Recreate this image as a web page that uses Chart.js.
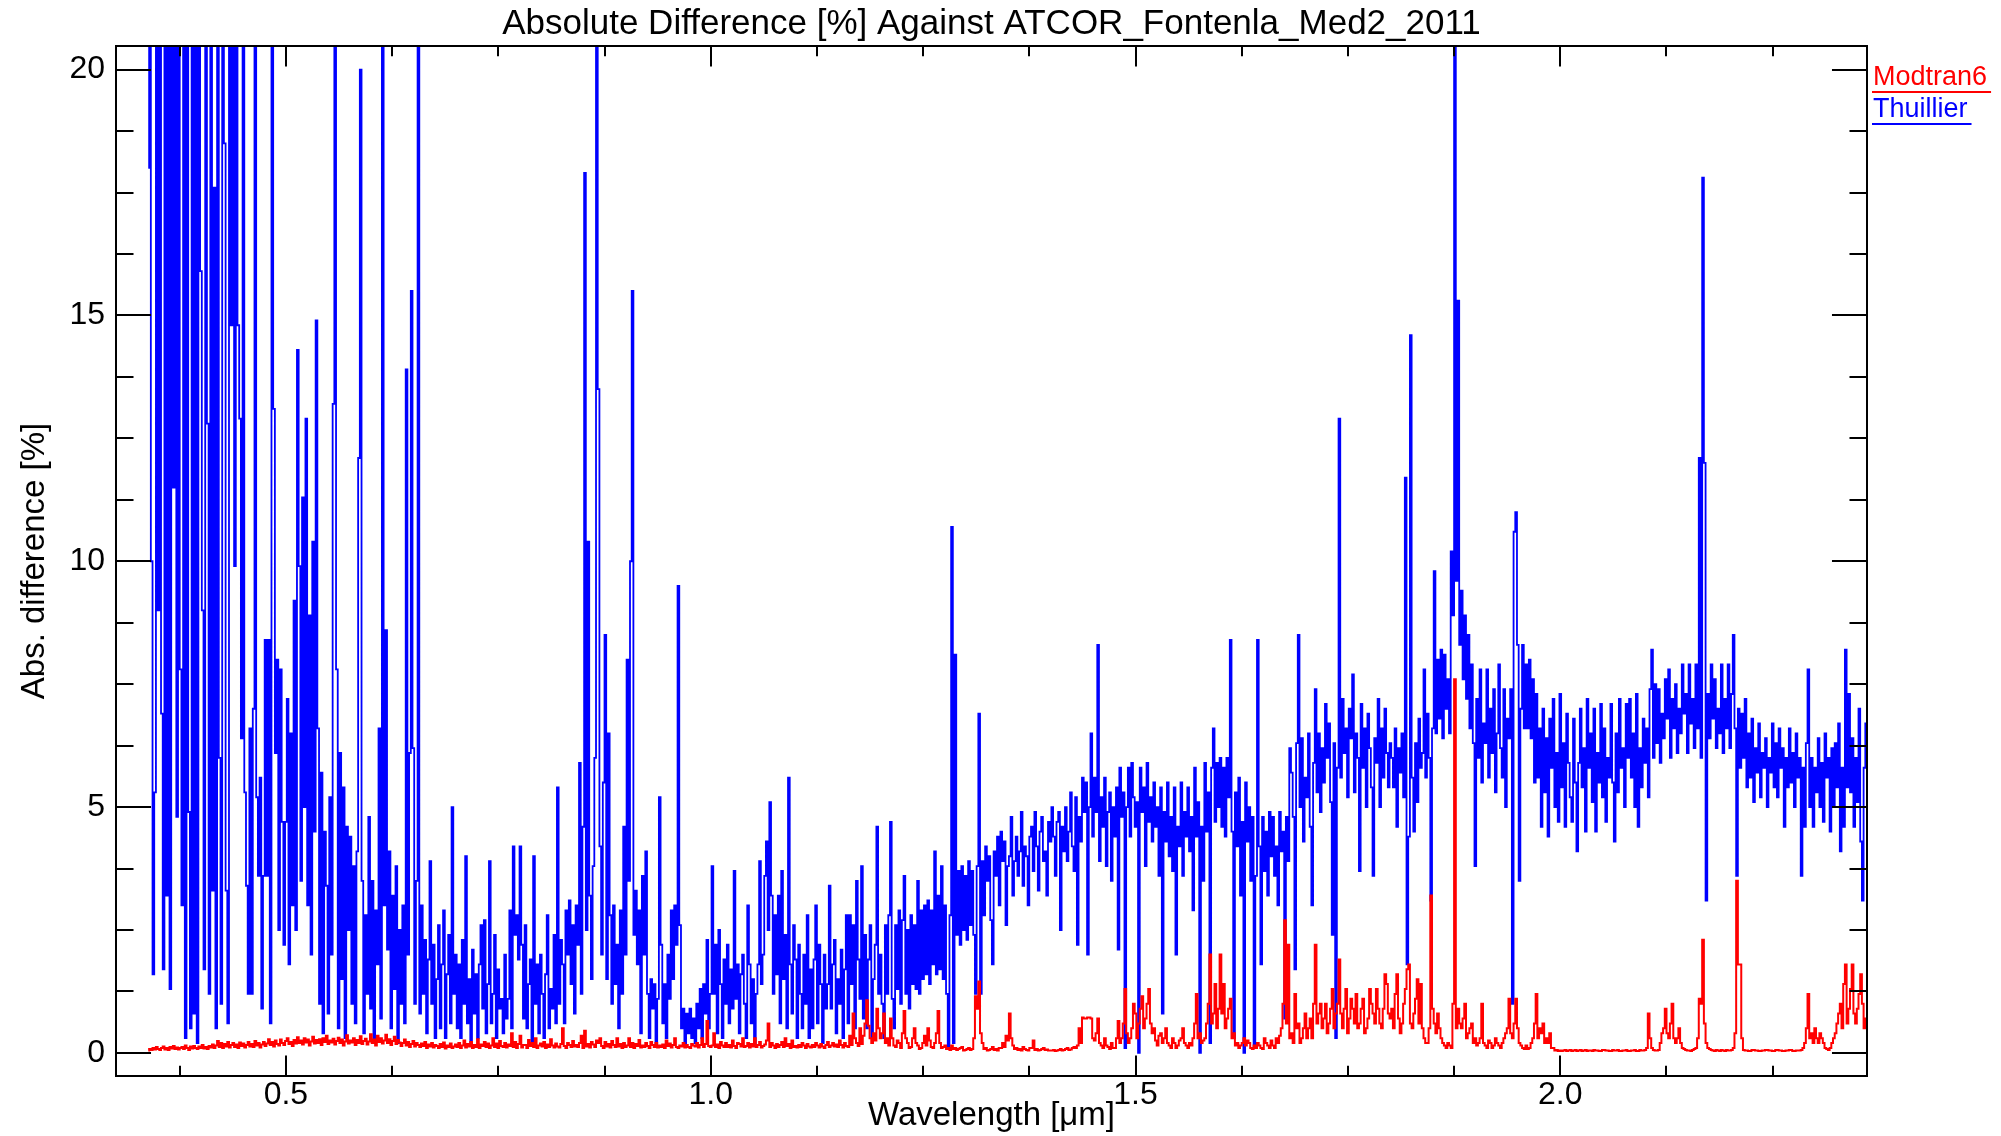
<!DOCTYPE html>
<html>
<head>
<meta charset="utf-8">
<title>Absolute Difference [%] Against ATCOR_Fontenla_Med2_2011</title>
<script src="https://cdn.jsdelivr.net/npm/chart.js@4.4.1/dist/chart.umd.min.js"></script>
<style>
  html, body { margin: 0; padding: 0; background: #fff; }
  #wrap { width: 2001px; height: 1136px; position: relative; }
</style>
</head>
<body>
<div id="wrap"><canvas id="chart"></canvas></div>
<script>
// ---- data ----
// wavelength grid [um]
const wlUV = [
  0.338,0.340,0.342,0.344,0.346,0.348,0.350,0.352,0.354,0.356,
  0.358,0.360,0.362,0.364,0.366,0.368,0.370,0.372,0.374,0.376,
  0.378,0.380,0.382,0.384,0.386,0.388,0.390,0.392,0.394,0.396,
  0.398,0.400,0.402,0.404,0.406,0.408,0.410,0.412,0.414,0.416,
  0.418,0.420,0.422,0.424,0.426,0.428,0.430,0.432,0.434,0.436,
  0.438,0.440,0.442,0.444,0.446,0.448,0.450,0.452,0.454,0.456,
  0.458,0.460,0.462,0.464,0.466,0.468,0.470,0.472,0.474,0.476,
  0.478,0.480,0.482,0.484,0.486,0.488,0.490,0.492,0.494,0.496,
  0.498,0.500,0.502,0.504,0.506,0.508,0.510,0.512,0.514,0.516,
  0.518,0.520,0.522,0.524,0.526,0.528,0.530,0.532,0.534,0.536,
  0.538,0.540,0.542,0.544,0.546,0.548,0.550,0.552,0.554,0.556,
  0.558,0.560,0.562,0.564,0.566,0.568,0.570,0.572,0.574,0.576,
  0.578,0.580,0.582,0.584,0.586,0.588,0.590,0.592,0.594,0.596,
  0.598,0.600,0.602,0.604,0.606,0.608,0.610,0.612,0.614,0.616,
  0.618,0.620,0.622,0.624,0.626,0.628,0.630,0.632,0.634,0.636,
  0.638,0.640,0.642,0.644,0.646,0.648,0.650,0.652,0.654,0.656,
  0.658,0.660,0.662,0.664,0.666,0.668,0.670,0.672,0.674,0.676,
  0.678,0.680,0.682,0.684,0.686,0.688,0.690,0.692,0.694,0.696,
  0.698,0.700
];
const wlVNIR = [
  0.702,0.704,0.706,0.708,0.710,0.712,0.714,0.716,0.718,0.720,
  0.722,0.724,0.726,0.728,0.730,0.732,0.734,0.736,0.738,0.740,
  0.742,0.744,0.746,0.748,0.750,0.752,0.754,0.756,0.758,0.760,
  0.762,0.764,0.766,0.768,0.770,0.772,0.774,0.776,0.778,0.780,
  0.782,0.784,0.786,0.788,0.790,0.792,0.794,0.796,0.798,0.800,
  0.802,0.804,0.806,0.808,0.810,0.812,0.814,0.816,0.818,0.820,
  0.822,0.824,0.826,0.828,0.830,0.832,0.834,0.836,0.838,0.840,
  0.842,0.844,0.846,0.848,0.850,0.852,0.854,0.856,0.858,0.860,
  0.862,0.864,0.866,0.868,0.870,0.872,0.874,0.876,0.878,0.880,
  0.882,0.884,0.886,0.888,0.890,0.892,0.894,0.896,0.898,0.900,
  0.902,0.904,0.906,0.908,0.910,0.912,0.914,0.916,0.918,0.920,
  0.922,0.924,0.926,0.928,0.930,0.932,0.934,0.936,0.938,0.940,
  0.942,0.944,0.946,0.948,0.950,0.952,0.954,0.956,0.958,0.960,
  0.962,0.964,0.966,0.968,0.970,0.972,0.974,0.976,0.978,0.980,
  0.982,0.984,0.986,0.988,0.990,0.992,0.994,0.996,0.998,1.000,
  1.002,1.004,1.006,1.008,1.010,1.012,1.014,1.016,1.018,1.020,
  1.022,1.024,1.026,1.028,1.030,1.032,1.034,1.036,1.038,1.040,
  1.042,1.044,1.046,1.048,1.050,1.052,1.054,1.056,1.058,1.060,
  1.062,1.064,1.066,1.068,1.070,1.072,1.074,1.076,1.078,1.080,
  1.082,1.084,1.086,1.088,1.090,1.092,1.094,1.096,1.098,1.100,
  1.102,1.104,1.106,1.108,1.110,1.112,1.114,1.116,1.118,1.120,
  1.122,1.124,1.126,1.128,1.130,1.132,1.134,1.136,1.138,1.140,
  1.142,1.144,1.146,1.148,1.150,1.152,1.154,1.156,1.158,1.160,
  1.162,1.164,1.166,1.168,1.170,1.172,1.174,1.176,1.178,1.180,
  1.182,1.184,1.186,1.188,1.190,1.192,1.194,1.196,1.198,1.200
];
const wlSWIR1 = [
  1.202,1.204,1.206,1.208,1.210,1.212,1.214,1.216,1.218,1.220,
  1.222,1.224,1.226,1.228,1.230,1.232,1.234,1.236,1.238,1.240,
  1.242,1.244,1.246,1.248,1.250,1.252,1.254,1.256,1.258,1.260,
  1.262,1.264,1.266,1.268,1.270,1.272,1.274,1.276,1.278,1.280,
  1.282,1.284,1.286,1.288,1.290,1.292,1.294,1.296,1.298,1.300,
  1.302,1.304,1.306,1.308,1.310,1.312,1.314,1.316,1.318,1.320,
  1.322,1.324,1.326,1.328,1.330,1.332,1.334,1.336,1.338,1.340,
  1.342,1.344,1.346,1.348,1.350,1.352,1.354,1.356,1.358,1.360,
  1.362,1.364,1.366,1.368,1.370,1.372,1.374,1.376,1.378,1.380,
  1.382,1.384,1.386,1.388,1.390,1.392,1.394,1.396,1.398,1.400,
  1.402,1.404,1.406,1.408,1.410,1.412,1.414,1.416,1.418,1.420,
  1.422,1.424,1.426,1.428,1.430,1.432,1.434,1.436,1.438,1.440,
  1.442,1.444,1.446,1.448,1.450,1.452,1.454,1.456,1.458,1.460,
  1.462,1.464,1.466,1.468,1.470,1.472,1.474,1.476,1.478,1.480,
  1.482,1.484,1.486,1.488,1.490,1.492,1.494,1.496,1.498,1.500,
  1.502,1.504,1.506,1.508,1.510,1.512,1.514,1.516,1.518,1.520,
  1.522,1.524,1.526,1.528,1.530,1.532,1.534,1.536,1.538,1.540,
  1.542,1.544,1.546,1.548,1.550,1.552,1.554,1.556,1.558,1.560,
  1.562,1.564,1.566,1.568,1.570,1.572,1.574,1.576,1.578,1.580,
  1.582,1.584,1.586,1.588,1.590,1.592,1.594,1.596,1.598,1.600,
  1.602,1.604,1.606,1.608,1.610,1.612,1.614,1.616,1.618,1.620,
  1.622,1.624,1.626,1.628,1.630,1.632,1.634,1.636,1.638,1.640,
  1.642,1.644,1.646,1.648,1.650,1.652,1.654,1.656,1.658,1.660,
  1.662,1.664,1.666,1.668,1.670,1.672,1.674,1.676,1.678,1.680,
  1.682,1.684,1.686,1.688,1.690,1.692,1.694,1.696,1.698,1.700,
  1.702,1.704,1.706,1.708,1.710,1.712,1.714,1.716,1.718,1.720,
  1.722,1.724,1.726,1.728,1.730,1.732,1.734,1.736,1.738,1.740,
  1.742,1.744,1.746,1.748,1.750,1.752,1.754,1.756,1.758,1.760,
  1.762,1.764,1.766,1.768,1.770,1.772,1.774,1.776,1.778,1.780,
  1.782,1.784,1.786,1.788,1.790,1.792,1.794,1.796,1.798,1.800
];
const wlSWIR2 = [
  1.802,1.804,1.806,1.808,1.810,1.812,1.814,1.816,1.818,1.820,
  1.822,1.824,1.826,1.828,1.830,1.832,1.834,1.836,1.838,1.840,
  1.842,1.844,1.846,1.848,1.850,1.852,1.854,1.856,1.858,1.860,
  1.862,1.864,1.866,1.868,1.870,1.872,1.874,1.876,1.878,1.880,
  1.882,1.884,1.886,1.888,1.890,1.892,1.894,1.896,1.898,1.900,
  1.902,1.904,1.906,1.908,1.910,1.912,1.914,1.916,1.918,1.920,
  1.922,1.924,1.926,1.928,1.930,1.932,1.934,1.936,1.938,1.940,
  1.942,1.944,1.946,1.948,1.950,1.952,1.954,1.956,1.958,1.960,
  1.962,1.964,1.966,1.968,1.970,1.972,1.974,1.976,1.978,1.980,
  1.982,1.984,1.986,1.988,1.990,1.992,1.994,1.996,1.998,2.000,
  2.002,2.004,2.006,2.008,2.010,2.012,2.014,2.016,2.018,2.020,
  2.022,2.024,2.026,2.028,2.030,2.032,2.034,2.036,2.038,2.040,
  2.042,2.044,2.046,2.048,2.050,2.052,2.054,2.056,2.058,2.060,
  2.062,2.064,2.066,2.068,2.070,2.072,2.074,2.076,2.078,2.080,
  2.082,2.084,2.086,2.088,2.090,2.092,2.094,2.096,2.098,2.100,
  2.102,2.104,2.106,2.108,2.110,2.112,2.114,2.116,2.118,2.120,
  2.122,2.124,2.126,2.128,2.130,2.132,2.134,2.136,2.138,2.140,
  2.142,2.144,2.146,2.148,2.150,2.152,2.154,2.156,2.158,2.160,
  2.162,2.164,2.166,2.168,2.170,2.172,2.174,2.176,2.178,2.180,
  2.182,2.184,2.186,2.188,2.190,2.192,2.194,2.196,2.198,2.200,
  2.202,2.204,2.206,2.208,2.210,2.212,2.214,2.216,2.218,2.220,
  2.222,2.224,2.226,2.228,2.230,2.232,2.234,2.236,2.238,2.240,
  2.242,2.244,2.246,2.248,2.250,2.252,2.254,2.256,2.258,2.260,
  2.262,2.264,2.266,2.268,2.270,2.272,2.274,2.276,2.278,2.280,
  2.282,2.284,2.286,2.288,2.290,2.292,2.294,2.296,2.298,2.300,
  2.302,2.304,2.306,2.308,2.310,2.312,2.314,2.316,2.318,2.320,
  2.322,2.324,2.326,2.328,2.330,2.332,2.334,2.336,2.338,2.340,
  2.342,2.344,2.346,2.348,2.350,2.352,2.354,2.356,2.358,2.360
];

// Thuillier abs. difference [%] (values above 20 run off the top of the plot)
const thuillierUV = [
  18, 25, 10, 1.6, 5.3, 25, 9, 25, 6.9, 1.7,
  25, 3.2, 25, 1.3, 25, 11.5, 25, 4.8, 25, 7.8,
  3.0, 25, 0.3, 25, 4.9, 0.5, 25, 0.8, 25, 0.2,
  25, 15.9, 9, 1.7, 25, 12.8, 1.2, 25, 3.3, 17.6,
  0.5, 25, 6.0, 1.0, 25, 18.5, 3.3, 0.6, 25, 14.8,
  25, 9.9, 25, 14.8, 12.9, 6.4, 25, 5.3, 3.4, 1.2,
  6.6, 1.2, 7.0, 25, 5.2, 3.6, 5.6, 0.9, 3.6, 8.4,
  3.6, 8.4, 0.6, 25, 13.1, 6.1, 8.0, 2.5, 7.8, 4.7,
  2.2, 4.7, 7.2, 1.8, 6.5, 3.0, 9.2, 2.5, 14.3, 9.9,
  3.5, 11.3, 5.0, 12.9, 3.0, 8.9, 2.0, 10.4, 4.5, 14.9,
  6.6, 1.0, 5.7, 0.4, 4.5, 3.4, 0.8, 5.2, 2.0, 13.2,
  25, 7.8, 0.5, 6.1, 1.5, 5.4, 0.3, 4.6, 2.5, 4.4,
  1.0, 3.8, 0.6, 4.1, 12.1, 20.0, 3.5, 0.4, 2.8, 1.2,
  4.8, 0.9, 3.5, 0.3, 2.9, 1.8, 6.6, 0.7, 25, 3.0,
  8.6, 2.1, 4.1, 0.5, 3.2, 1.3, 3.8, 0.2, 2.5, 1.0,
  3.0, 0.6, 13.9, 2.0, 6.1, 15.5, 6.2, 1.0, 3.5, 25,
  0.8, 3.0, 1.2, 2.3, 0.4, 1.9, 3.9, 1.0, 2.2, 0.3,
  1.5, 2.6, 0.5, 1.8, 2.9, 0.3, 1.6, 2.4, 0.6, 5.0,
  1.2, 2.0
];
const thuillierVNIR = [
  0.5, 1.8, 0.3, 2.3, 1.0, 4.0, 0.6, 1.5, 0.2, 2.1,
  0.8, 1.6, 0.3, 1.8, 2.6, 0.9, 2.7, 0.4, 1.4, 3.9,
  0.6, 1.2, 2.4, 0.3, 1.7, 0.9, 1.1, 0.4, 2.0, 0.7,
  1.1, 2.9, 0.5, 4.2, 2.4, 2.8, 1.9, 4.2, 2.2, 0.7,
  2.6, 0.5, 1.4, 1.9, 0.2, 4.0, 1.0, 1.8, 0.4, 2.0,
  1.2, 0.3, 1.6, 2.8, 0.5, 1.3, 0.9, 2.4, 0.6, 5.4,
  1.0, 2.3, 1.8, 0.6, 2.9, 2.0, 3.1, 1.4, 2.6, 0.8,
  3.0, 2.2, 5.9, 1.2, 4.6, 17.9, 2.5, 10.4, 3.2, 1.5,
  3.8, 6.0, 25, 13.5, 4.2, 2.0, 5.5, 8.5, 1.5, 6.5,
  2.8, 1.0, 3.0, 1.4, 2.2, 0.5, 2.9, 1.2, 4.6, 2.0,
  8.0, 3.5, 10.0, 15.5, 2.4, 3.3, 1.8, 2.9, 0.4, 3.6,
  2.0, 4.1, 1.2, 0.3, 1.5, 0.9, 1.4, 0.2, 1.1, 5.2,
  2.2, 0.6, 1.4, 0.3, 2.0, 1.1, 2.9, 1.5, 3.0, 2.2,
  9.5, 2.6, 0.5, 0.9, 0.2, 0.8, 0.4, 0.9, 0.3, 0.7,
  0.2, 1.0, 0.5, 1.3, 0.3, 1.4, 0.8, 2.3, 0.5, 1.2,
  3.8, 1.2, 2.2, 0.4, 2.5, 1.4, 0.3, 1.9, 1.0, 2.2,
  0.6, 1.7, 0.9, 3.7, 1.1, 1.8, 0.4, 1.6, 2.0, 1.0,
  0.3, 3.0, 1.8, 0.6, 1.5, 0.2, 1.2, 1.8, 3.9, 1.4,
  2.0, 3.6, 4.3, 2.5, 5.1, 3.2, 1.2, 2.8, 1.6, 3.2,
  0.6, 3.7, 1.5, 2.4, 0.5, 5.6, 1.8, 0.8, 2.6, 1.9,
  0.3, 2.2, 1.2, 0.5, 2.0, 1.0, 2.8, 0.3, 1.7, 0.5,
  1.9, 3.0, 0.6, 2.2, 1.4, 0.2, 2.0, 0.9, 1.4, 3.4,
  0.9, 1.8, 2.3, 0.4, 1.5, 1.0, 2.1, 0.3, 1.7, 2.8,
  0.6, 2.8, 1.4, 2.6, 0.5, 3.5, 1.9, 1.1, 3.8, 0.7,
  2.4, 0.5, 1.9, 2.6, 0.3, 1.5, 2.2, 4.6, 1.2, 2.0
];
const thuillierSWIR1 = [
  1.0, 0.3, 2.6, 1.2, 2.8, 4.7, 1.1, 0.5, 2.6, 1.3,
  2.9, 1.0, 2.7, 3.6, 1.2, 2.5, 0.9, 2.8, 1.4, 2.6,
  1.3, 3.5, 1.2, 2.9, 1.5, 3.0, 1.6, 3.1, 1.4, 2.9,
  1.8, 4.1, 1.6, 3.2, 1.7, 3.8, 1.5, 3.0, 1.2, 0.1,
  2.8, 10.7, 0.2, 8.1, 2.4, 3.7, 2.2, 3.8, 2.5, 3.6,
  2.3, 3.9, 2.6, 3.7, 2.4, 1.2, 3.8, 6.9, 1.2, 3.9,
  2.8, 4.2, 3.5, 4.0, 2.7, 1.8, 4.1, 3.6, 4.4, 3.0,
  4.5, 3.9, 4.3, 2.6, 3.8, 4.0, 4.8, 3.2, 3.9, 4.4,
  3.6, 4.1, 4.9, 3.4, 4.2, 4.0, 3.0, 4.4, 4.6, 3.7,
  4.9, 4.2, 3.3, 4.5, 4.8, 3.9, 4.1, 3.2, 4.7, 4.3,
  5.0, 4.4, 3.6, 4.7, 4.9, 2.5, 4.6, 4.1, 5.0, 3.9,
  4.5, 5.3, 4.2, 3.7, 5.2, 2.2, 4.8, 4.3, 5.6, 4.9,
  5.5, 2.0, 5.0, 6.5, 4.4, 5.6, 4.9, 8.3, 3.9, 5.2,
  4.6, 5.6, 3.8, 4.9, 5.3, 3.5, 5.0, 4.4, 5.4, 2.1,
  5.8, 4.8, 5.3, 0.1, 5.0, 5.8, 4.4, 5.9, 5.2, 4.6,
  5.1, 0.0, 5.8, 4.9, 5.4, 3.8, 5.9, 4.7, 5.2, 4.3,
  5.5, 4.6, 5.0, 3.6, 5.4, 0.8, 4.9, 4.3, 5.5, 4.0,
  4.8, 3.7, 5.4, 2.0, 4.6, 4.2, 5.5, 3.6, 4.9, 4.4,
  5.4, 4.1, 4.8, 2.9, 5.8, 4.4, 5.1, 0.0, 4.6, 3.5,
  5.9, 4.5, 5.3, 0.2, 5.8, 6.6, 4.7, 5.9, 5.0, 6.0,
  4.6, 5.8, 4.4, 6.0, 5.2, 8.4, 4.5, 0.3, 5.3, 4.2,
  5.6, 3.2, 4.7, 0.0, 5.5, 4.3, 5.0, 3.5, 4.8, 0.1,
  3.6, 8.4, 4.2, 1.8, 4.8, 3.7, 4.5, 3.2, 4.9, 4.0,
  4.8, 3.6, 4.2, 3.0, 4.9, 4.1, 4.5, 0.7, 4.8, 3.9,
  6.2, 5.7, 4.8, 1.7, 6.3, 8.5, 5.0, 6.4, 4.3, 5.6,
  5.2, 6.5, 4.6, 3.0, 5.9, 7.4, 5.3, 6.5, 4.9, 6.2,
  5.5, 7.1, 6.0, 6.7, 5.1, 2.4, 6.3, 0.3, 5.8, 12.9,
  5.6, 7.2, 6.1, 6.6, 5.2, 7.0, 6.4, 7.7, 5.3, 6.5,
  6.0, 3.7, 7.1, 5.8, 6.6, 5.0, 6.9, 6.2, 5.4, 3.6,
  6.4, 5.9, 7.2, 5.0, 6.6, 5.6, 7.0, 6.1, 5.4, 6.3
];
const thuillierSWIR2 = [
  6.0, 5.4, 6.6, 4.6, 6.2, 5.7, 6.5, 5.2, 11.7, 1.8,
  4.4, 14.6, 5.6, 4.5, 6.3, 5.1, 6.8, 5.8, 6.1, 7.8,
  5.6, 6.9, 6.0, 3.1, 6.6, 9.8, 6.5, 8.0, 6.8, 8.2,
  6.4, 8.1, 7.0, 7.6, 6.5, 10.2, 8.9, 25, 9.6, 15.3,
  8.3, 9.4, 7.6, 8.9, 7.2, 8.5, 6.6, 7.9, 6.3, 3.8,
  7.2, 6.0, 7.8, 5.5, 6.7, 6.3, 7.8, 5.6, 7.0, 6.1,
  7.4, 5.3, 6.5, 7.9, 6.2, 5.6, 7.4, 5.0, 6.8, 6.4,
  7.4, 1.0, 10.6, 11.0, 8.3, 3.5, 7.0, 8.3, 6.6, 7.9,
  6.6, 8.0, 6.4, 7.6, 5.5, 7.3, 5.6, 6.6, 4.6, 7.0,
  5.3, 6.4, 4.4, 6.8, 5.8, 7.2, 5.0, 6.1, 4.7, 7.3,
  5.4, 6.3, 4.6, 6.9, 5.9, 5.2, 4.7, 6.8, 5.5, 4.1,
  5.9, 7.0, 5.4, 6.2, 4.5, 7.2, 5.8, 6.5, 5.1, 7.0,
  4.5, 6.1, 5.5, 7.1, 5.2, 6.6, 4.7, 6.0, 5.6, 7.1,
  5.5, 4.3, 6.5, 5.3, 7.2, 5.8, 6.2, 5.0, 7.1, 6.0,
  7.2, 5.6, 6.5, 5.0, 7.3, 4.6, 6.2, 5.4, 6.8, 5.9,
  6.6, 5.2, 7.4, 8.2, 6.0, 7.5, 6.3, 7.4, 5.9, 6.9,
  6.4, 7.6, 6.8, 7.8, 6.0, 7.2, 6.6, 7.5, 6.1, 7.0,
  6.5, 7.9, 6.9, 7.3, 6.1, 7.9, 6.7, 7.2, 6.2, 7.9,
  6.6, 12.1, 6.0, 17.8, 12.0, 3.1, 7.3, 6.4, 7.9, 6.8,
  7.6, 6.2, 7.0, 6.5, 7.9, 6.1, 7.2, 6.6, 7.9, 6.2,
  7.3, 8.5, 6.6, 3.6, 7.0, 5.8, 6.9, 6.0, 7.2, 5.4,
  6.5, 5.6, 6.8, 5.1, 6.2, 5.7, 6.7, 5.2, 6.1, 5.8,
  6.4, 5.0, 6.0, 5.7, 6.7, 5.4, 6.3, 5.2, 6.6, 5.8,
  6.2, 4.6, 6.0, 5.4, 6.6, 5.5, 6.1, 5.0, 6.5, 5.6,
  6.0, 3.6, 5.8, 4.6, 6.3, 7.8, 5.0, 6.0, 4.6, 5.8,
  5.3, 6.4, 5.0, 5.9, 4.7, 6.5, 5.6, 6.0, 4.5, 6.2,
  5.0, 6.3, 5.4, 6.7, 4.1, 5.8, 4.6, 8.2, 5.4, 7.3,
  5.3, 6.4, 4.6, 6.0, 5.1, 7.0, 4.3, 3.1, 5.8, 6.7
];

// Modtran6 abs. difference [%]
const modtranUV = [
  0.05, 0.08, 0.06, 0.1, 0.07, 0.12, 0.08, 0.06, 0.1, 0.13,
  0.07, 0.1, 0.06, 0.12, 0.09, 0.14, 0.08, 0.11, 0.07, 0.1,
  0.12, 0.08, 0.15, 0.1, 0.06, 0.13, 0.09, 0.14, 0.1, 0.08,
  0.13, 0.1, 0.16, 0.09, 0.12, 0.08, 0.14, 0.11, 0.17, 0.1,
  0.15, 0.24, 0.12, 0.2, 0.1, 0.18, 0.13, 0.22, 0.11, 0.16,
  0.2, 0.12, 0.17, 0.1, 0.21, 0.14, 0.19, 0.11, 0.16, 0.22,
  0.13, 0.18, 0.12, 0.24, 0.15, 0.2, 0.11, 0.17, 0.22, 0.14,
  0.19, 0.28, 0.16, 0.22, 0.13, 0.25, 0.18, 0.15, 0.27, 0.2,
  0.16, 0.24, 0.3, 0.18, 0.22, 0.14, 0.26, 0.19, 0.32, 0.2,
  0.25, 0.17, 0.3, 0.21, 0.27, 0.15, 0.23, 0.33, 0.19, 0.26,
  0.2, 0.28, 0.16, 0.3, 0.22, 0.35, 0.18, 0.25, 0.21, 0.29,
  0.17, 0.24, 0.31, 0.2, 0.27, 0.15, 0.23, 0.36, 0.19, 0.25,
  0.21, 0.3, 0.16, 0.26, 0.2, 0.34, 0.18, 0.24, 0.29, 0.17,
  0.23, 0.38, 0.2, 0.27, 0.15, 0.35, 0.22, 0.3, 0.19, 0.25,
  0.37, 0.2, 0.28, 0.16, 0.24, 0.33, 0.18, 0.26, 0.21, 0.14,
  0.2, 0.27, 0.15, 0.22, 0.12, 0.18, 0.24, 0.13, 0.2, 0.16,
  0.12, 0.19, 0.14, 0.22, 0.1, 0.17, 0.13, 0.2, 0.11, 0.16,
  0.14, 0.1, 0.18, 0.12, 0.21, 0.09, 0.15, 0.12, 0.19, 0.1,
  0.13, 0.17
];
const modtranVNIR = [
  0.12, 0.2, 0.1, 0.15, 0.25, 0.11, 0.18, 0.13, 0.22, 0.1,
  0.16, 0.12, 0.28, 0.1, 0.17, 0.14, 0.22, 0.12, 0.19, 0.1,
  0.15, 0.3, 0.12, 0.19, 0.1, 0.24, 0.14, 0.12, 0.2, 0.11,
  0.17, 0.14, 0.4, 0.12, 0.22, 0.1, 0.18, 0.35, 0.11, 0.16,
  0.16, 0.1, 0.26, 0.14, 0.2, 0.12, 0.3, 0.1, 0.15, 0.19,
  0.13, 0.22, 0.1, 0.17, 0.12, 0.28, 0.15, 0.11, 0.19, 0.13,
  0.11, 0.18, 0.5, 0.14, 0.1, 0.2, 0.16, 0.12, 0.24, 0.13,
  0.16, 0.12, 0.2, 0.35, 0.1, 0.45, 0.13, 0.18, 0.11, 0.22,
  0.17, 0.12, 0.25, 0.2, 0.3, 0.14, 0.1, 0.22, 0.13, 0.18,
  0.11, 0.24, 0.16, 0.12, 0.3, 0.13, 0.18, 0.1, 0.2, 0.12,
  0.15, 0.3, 0.12, 0.2, 0.1, 0.18, 0.14, 0.26, 0.11, 0.15,
  0.12, 0.2, 0.14, 0.1, 0.22, 0.16, 0.12, 0.2, 0.11, 0.15,
  0.12, 0.17, 0.1, 0.25, 0.14, 0.19, 0.11, 0.16, 0.3, 0.12,
  0.1, 0.15, 0.13, 0.2, 0.11, 0.16, 0.12, 0.1, 0.18, 0.15,
  0.13, 0.2, 0.11, 0.16, 0.3, 0.12, 0.18, 0.65, 0.14, 0.12,
  0.15, 0.4, 0.12, 0.17, 0.1, 0.22, 0.15, 0.12, 0.2, 0.12,
  0.16, 0.11, 0.25, 0.14, 0.1, 0.2, 0.18, 0.13, 0.3, 0.12,
  0.14, 0.2, 0.11, 0.18, 0.13, 0.3, 0.12, 0.16, 0.22, 0.11,
  0.14, 0.17, 0.25, 0.6, 0.12, 0.2, 0.15, 0.1, 0.18, 0.12,
  0.16, 0.22, 0.12, 0.3, 0.14, 0.18, 0.1, 0.25, 0.12, 0.14,
  0.11, 0.16, 0.12, 0.2, 0.15, 0.1, 0.18, 0.13, 0.11, 0.16,
  0.12, 0.2, 0.15, 0.11, 0.18, 0.13, 0.1, 0.16, 0.22, 0.12,
  0.15, 0.2, 0.13, 0.17, 0.12, 0.25, 0.16, 0.11, 0.2, 0.14,
  0.12, 0.35, 0.16, 0.8, 0.3, 0.2, 0.14, 0.5, 0.18, 0.35,
  0.6, 1.07, 0.55, 0.3, 0.2, 0.4, 0.25, 0.9, 0.5, 0.3
];
const modtranSWIR1 = [
  0.4, 0.8, 0.2, 0.3, 0.15, 0.7, 0.3, 0.15, 0.12, 0.25,
  0.2, 0.1, 0.4, 0.85, 0.3, 0.2, 0.1, 0.12, 0.3, 0.5,
  0.2, 0.15, 0.08, 0.1, 0.2, 0.35, 0.15, 0.5, 0.25, 0.12,
  0.1, 0.2, 0.4, 0.85, 0.2, 0.1, 0.12, 0.15, 0.08, 0.1,
  0.06, 0.15, 0.08, 0.1, 0.06, 0.08, 0.1, 0.12, 0.05, 0.06,
  0.08, 0.1, 0.06, 0.08, 0.3, 1.15, 0.9, 1.45, 0.4, 0.2,
  0.08, 0.1, 0.05, 0.06, 0.08, 0.12, 0.06, 0.08, 0.05, 0.1,
  0.1, 0.2, 0.12, 0.35, 0.25, 0.8, 0.3, 0.15, 0.08, 0.1,
  0.06, 0.08, 0.05, 0.12, 0.08, 0.06, 0.05, 0.1, 0.1, 0.25,
  0.06, 0.08, 0.05, 0.06, 0.08, 0.1, 0.06, 0.07, 0.05, 0.05,
  0.05, 0.06, 0.04, 0.05, 0.06, 0.08, 0.05, 0.06, 0.08, 0.1,
  0.06, 0.07, 0.1, 0.12, 0.1, 0.15, 0.5, 0.2, 0.72, 0.7,
  0.7, 0.72, 0.72, 0.7, 0.3, 0.25, 0.4, 0.7, 0.2, 0.15,
  0.1, 0.3, 0.15, 0.12, 0.08, 0.2, 0.1, 0.1, 0.3, 0.65,
  0.2, 0.3, 0.6, 1.3, 0.4, 0.2, 0.3, 0.5, 1.0, 0.8,
  0.3, 0.6, 0.9, 1.15, 0.5, 0.7, 1.0, 1.3, 0.6, 0.4,
  0.5, 0.25, 0.15, 0.35, 0.4, 0.2, 0.3, 0.5, 0.2, 0.15,
  0.1, 0.3, 0.2, 0.1, 0.15, 0.25, 0.3, 0.5, 0.2, 0.15,
  0.1, 0.2, 0.15, 0.3, 0.6, 1.2, 0.3, 0.4, 0.2, 0.25,
  0.3, 0.6, 1.0, 2.0, 0.6, 0.8, 1.4, 0.5, 0.9, 2.0,
  0.8, 1.4, 0.5, 0.7, 0.9, 1.1, 0.3, 0.4, 0.15, 0.2,
  0.1, 0.15, 0.2, 0.3, 0.15, 0.25, 0.2, 0.1, 0.08, 0.15,
  0.1, 0.2, 0.15, 0.1, 0.08, 0.3, 0.2, 0.15, 0.1, 0.25,
  0.15, 0.1, 0.3, 0.2, 0.35, 0.5, 1.0, 2.7, 0.6, 2.2,
  0.3, 0.4, 0.2, 1.2, 0.5, 0.6, 0.2, 0.3, 0.5, 0.8,
  0.3, 0.5, 0.7, 0.3, 1.0, 2.2, 0.6, 0.8, 1.0, 0.5,
  0.7, 1.0, 0.4, 0.6, 0.9, 1.3, 0.5, 0.8, 1.0, 1.9,
  0.8, 0.5, 0.9, 1.3, 0.4, 0.7, 1.1, 0.9, 0.6, 1.2,
  0.5, 0.6, 0.9, 1.1, 0.4, 0.5, 0.7, 1.3, 1.0, 0.8,
  0.6, 1.3, 0.9, 0.6, 0.5, 0.9, 1.6, 1.4, 0.8, 0.7
];
const modtranSWIR2 = [
  0.9, 0.5, 1.2, 1.6, 0.7, 0.4, 0.6, 1.0, 1.3, 1.7,
  1.8, 0.6, 0.5, 0.8, 1.1, 1.5, 0.6, 1.4, 0.5, 0.3,
  0.2, 0.2, 0.5, 3.2, 0.9, 0.6, 0.4, 0.8, 0.5, 0.3,
  0.2, 0.15, 0.1, 0.2, 0.15, 0.1, 1.0, 7.6, 0.5, 0.9,
  0.6, 0.5, 0.7, 1.0, 0.3, 0.4, 0.5, 0.6, 0.2, 0.3,
  0.15, 0.2, 0.3, 1.0, 0.2, 0.15, 0.1, 0.25, 0.2, 0.1,
  0.15, 0.3, 0.2, 0.15, 0.1, 0.2, 0.3, 0.4, 0.5, 1.1,
  0.4, 0.3, 0.6, 1.1, 0.5, 0.2, 0.15, 0.1, 0.08, 0.15,
  0.08, 0.1, 0.2, 0.3, 0.6, 1.2, 0.3, 0.5, 0.4, 0.6,
  0.2, 0.3, 0.2, 0.4, 0.1, 0.1, 0.05, 0.06, 0.04, 0.05,
  0.04, 0.05, 0.06, 0.04, 0.05, 0.06, 0.04, 0.05, 0.06, 0.04,
  0.05, 0.06, 0.04, 0.05, 0.06, 0.04, 0.05, 0.05, 0.04, 0.06,
  0.05, 0.05, 0.04, 0.04, 0.06, 0.06, 0.05, 0.05, 0.04, 0.04,
  0.06, 0.05, 0.05, 0.06, 0.04, 0.04, 0.05, 0.05, 0.06, 0.04,
  0.04, 0.05, 0.05, 0.06, 0.04, 0.04, 0.06, 0.05, 0.05, 0.06,
  0.1, 0.8, 0.3, 0.1, 0.06, 0.05, 0.05, 0.06, 0.2, 0.4,
  0.5, 0.9, 0.4, 0.3, 0.6, 1.0, 0.3, 0.2, 0.3, 0.5,
  0.2, 0.1, 0.08, 0.06, 0.05, 0.05, 0.04, 0.06, 0.08, 0.1,
  0.3, 1.1, 1.0, 2.3, 0.6, 0.2, 0.1, 0.08, 0.06, 0.05,
  0.04, 0.06, 0.05, 0.04, 0.06, 0.05, 0.04, 0.06, 0.05, 0.05,
  0.06, 0.1, 0.4, 3.5, 1.8, 1.8, 0.3, 0.06, 0.05, 0.05,
  0.04, 0.04, 0.06, 0.06, 0.05, 0.05, 0.04, 0.04, 0.05, 0.05,
  0.06, 0.06, 0.05, 0.05, 0.04, 0.04, 0.06, 0.06, 0.05, 0.05,
  0.04, 0.04, 0.05, 0.05, 0.06, 0.06, 0.04, 0.04, 0.05, 0.05,
  0.05, 0.06, 0.1, 0.2, 0.5, 1.2, 0.3, 0.4, 0.2, 0.5,
  0.3, 0.2, 0.4, 0.3, 0.2, 0.1, 0.08, 0.06, 0.1, 0.2,
  0.3, 0.4, 0.6, 0.8, 1.0, 0.5, 1.4, 1.8, 0.6, 0.9,
  1.3, 1.8, 0.8, 0.6, 0.9, 1.2, 1.6, 1.0, 0.5, 0.7
];

// axis ticks
const xMajor = [0.5, 1.0, 1.5, 2.0];
const xMinor = [0.375, 0.625, 0.75, 0.875, 1.125, 1.25, 1.375, 1.625, 1.75, 1.875, 2.125, 2.25];
const yMajor = [0, 5, 10, 15, 20];
const yMinor = [1.25, 2.5, 3.75, 6.25, 7.5, 8.75, 11.25, 12.5, 13.75, 16.25, 17.5, 18.75];

const seriesNames = ['Modtran6', 'Thuillier'];
const seriesColors = ['#ff0000', '#0000ff'];

// ---- build ----
const wavelength = [...wlUV, ...wlVNIR, ...wlSWIR1, ...wlSWIR2];
const modtran6 = [...modtranUV, ...modtranVNIR, ...modtranSWIR1, ...modtranSWIR2];
const thuillier = [...thuillierUV, ...thuillierVNIR, ...thuillierSWIR1, ...thuillierSWIR2];
if (modtran6.length !== wavelength.length || thuillier.length !== wavelength.length) {
  console.warn('length mismatch', wavelength.length, modtran6.length, thuillier.length);
}
const toPts = vals => vals.map((v, i) => ({ x: wavelength[i], y: v }));

const FONT = "'Liberation Sans', 'DejaVu Sans', sans-serif";

// IDL-like box with inward ticks on all four sides
const boxAxes = {
  id: 'boxAxes',
  afterDatasetsDraw(chart) {
    const { ctx, chartArea: a, scales: { x, y } } = chart;
    const xLen = (a.bottom - a.top) * 0.02;
    const yLen = (a.right - a.left) * 0.02;
    ctx.save();
    ctx.strokeStyle = '#000';
    ctx.lineWidth = 2;
    ctx.strokeRect(a.left, a.top, a.right - a.left, a.bottom - a.top);
    ctx.beginPath();
    const vTick = (v, len) => {
      const px = Math.round(x.getPixelForValue(v));
      ctx.moveTo(px, a.bottom); ctx.lineTo(px, a.bottom - len);
      ctx.moveTo(px, a.top); ctx.lineTo(px, a.top + len);
    };
    const hTick = (v, len) => {
      const py = Math.round(y.getPixelForValue(v));
      ctx.moveTo(a.left, py); ctx.lineTo(a.left + len, py);
      ctx.moveTo(a.right, py); ctx.lineTo(a.right - len, py);
    };
    xMajor.forEach(v => vTick(v, xLen));
    xMinor.forEach(v => vTick(v, xLen / 2));
    yMajor.forEach(v => hTick(v, yLen));
    yMinor.forEach(v => hTick(v, yLen / 2));
    ctx.stroke();
    ctx.restore();
  }
};

// underlined legend to the right of the plot
const sideLegend = {
  id: 'sideLegend',
  afterDraw(chart) {
    const { ctx, chartArea: a } = chart;
    ctx.save();
    ctx.font = '27px ' + FONT;
    ctx.textBaseline = 'alphabetic';
    ctx.textAlign = 'left';
    seriesNames.forEach((name, i) => {
      const x0 = a.right + 6;
      const base = 85 + i * 32;
      ctx.fillStyle = seriesColors[i];
      ctx.fillText(name, x0, base);
      const w = ctx.measureText(name).width;
      ctx.strokeStyle = seriesColors[i];
      ctx.lineWidth = 2;
      ctx.beginPath();
      ctx.moveTo(x0 - 1, base + 7);
      ctx.lineTo(x0 + w + 4, base + 7);
      ctx.stroke();
    });
    ctx.restore();
  }
};

new Chart(document.getElementById('chart'), {
  type: 'line',
  data: {
    datasets: [
      {
        label: seriesNames[0],
        data: toPts(modtran6),
        borderColor: seriesColors[0],
        borderWidth: 2,
        stepped: 'middle',
        pointRadius: 0,
        fill: false
      },
      {
        label: seriesNames[1],
        data: toPts(thuillier),
        borderColor: seriesColors[1],
        borderWidth: 1.8,
        stepped: 'middle',
        pointRadius: 0,
        fill: false
      }
    ]
  },
  options: {
    responsive: true,
    maintainAspectRatio: false,
    animation: false,
    parsing: false,
    normalized: true,
    events: [],
    layout: { padding: { left: 0, right: 134, top: 0, bottom: 0 } },
    plugins: {
      legend: { display: false },
      tooltip: { enabled: false },
      title: {
        display: true,
        fullSize: false,
        text: 'Absolute Difference [%] Against ATCOR_Fontenla_Med2_2011',
        color: '#000',
        font: { family: FONT, size: 35, weight: 'normal' },
        padding: { top: 3, bottom: 1 }
      }
    },
    scales: {
      x: {
        type: 'linear',
        min: 0.3,
        max: 2.361,
        grid: { display: false, drawTicks: false },
        border: { display: false },
        afterBuildTicks: s => { s.ticks = xMajor.map(v => ({ value: v })); },
        afterFit: s => { s.height = 60; },
        ticks: {
          color: '#000',
          font: { family: FONT, size: 32 },
          padding: 0,
          autoSkip: false,
          maxRotation: 0,
          callback: v => Number(v).toFixed(1)
        },
        title: {
          display: true,
          text: 'Wavelength [μm]',
          color: '#000',
          font: { family: FONT, size: 33 },
          padding: { top: 0, bottom: 0 }
        }
      },
      y: {
        type: 'linear',
        min: -0.47,
        max: 20.48,
        grid: { display: false, drawTicks: false },
        border: { display: false },
        afterBuildTicks: s => { s.ticks = yMajor.map(v => ({ value: v })); },
        afterFit: s => { s.width = 116; },
        ticks: {
          color: '#000',
          font: { family: FONT, size: 32 },
          padding: 11,
          autoSkip: false,
          callback: v => String(v)
        },
        title: {
          display: true,
          text: 'Abs. difference [%]',
          color: '#000',
          font: { family: FONT, size: 33 },
          padding: { top: 15, bottom: 0 }
        }
      }
    }
  },
  plugins: [boxAxes, sideLegend]
});
</script>
</body>
</html>
